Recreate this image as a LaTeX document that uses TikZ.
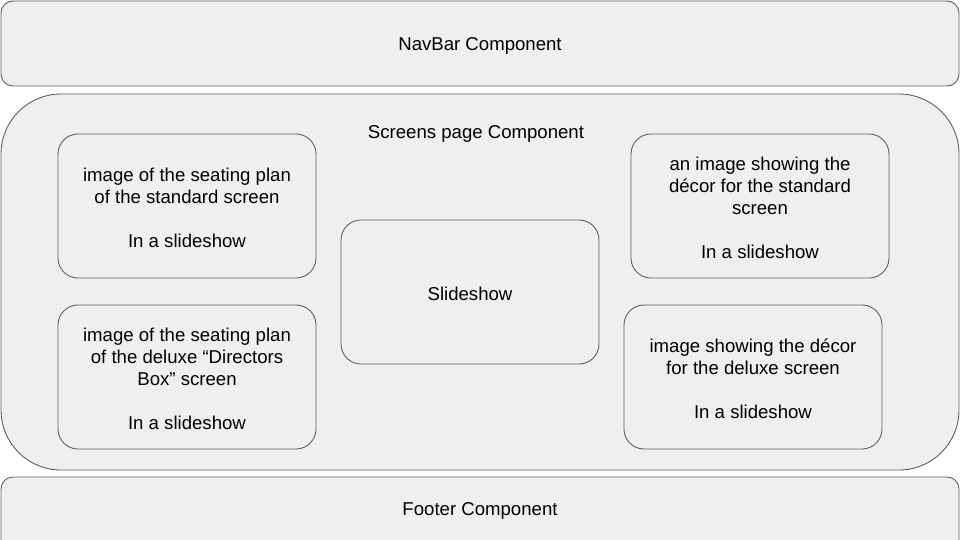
\documentclass[tikz,border=0pt]{standalone}
\usepackage{fontspec}
\setmainfont{Liberation Sans}
\definecolor{boxfill}{HTML}{EFEFEF}
\definecolor{boxline}{HTML}{5F5F5F}
\begin{document}
\begin{tikzpicture}[x=1pt,y=-1pt,
  comp/.style={draw=boxline,fill=boxfill,line width=0.9pt,inner sep=0pt},
  bar/.style={comp,rounded corners=12pt},
  card/.style={comp,rounded corners=20pt,minimum width=258pt,minimum height=144pt},
  lbl/.style={inner sep=0pt,align=center,font=\fontsize{18.6}{22}\selectfont}]
\clip (0,0) rectangle (960,540);
\fill[white] (0,0) rectangle (960,540);
\node[bar,minimum width=958pt,minimum height=85pt] (nav) at (480,43.5) {};
\node[lbl] (navlbl) at ([yshift=-2pt]nav.center) {NavBar Component};
\node[comp,rounded corners=60pt,minimum width=958pt,minimum height=376pt] (screens) at (480,282) {};
\node[lbl] (screenslbl) at (476,134) {Screens page Component};
\node[bar,minimum width=958pt,minimum height=90pt] (footer) at (480,522) {};
\node[lbl] (footerlbl) at (480,511) {Footer Component};
\node[card] (std) at (187,206) {};
\node[lbl] (stdlbl) at ([yshift=-2pt]std.center) {image of the seating plan\\of the standard screen\\[22pt]In a slideshow};
\node[card] (dlx) at (187,377) {};
\node[lbl] (dlxlbl) at ([yshift=-2pt]dlx.center) {image of the seating plan\\of the deluxe “Directors\\Box” screen\\[22pt]In a slideshow};
\node[card] (slide) at (470,292) {};
\node[lbl] (slidelbl) at ([yshift=-2pt]slide.center) {Slideshow};
\node[card] (decstd) at (760,206) {};
\node[lbl] (decstdlbl) at ([yshift=-2pt]decstd.center) {an image showing the\\décor for the standard\\screen\\[22pt]In a slideshow};
\node[card] (decdlx) at (753,377) {};
\node[lbl] (decdlxlbl) at ([yshift=-2pt]decdlx.center) {image showing the décor\\for the deluxe screen\\[22pt]In a slideshow};
\end{tikzpicture}
\end{document}
